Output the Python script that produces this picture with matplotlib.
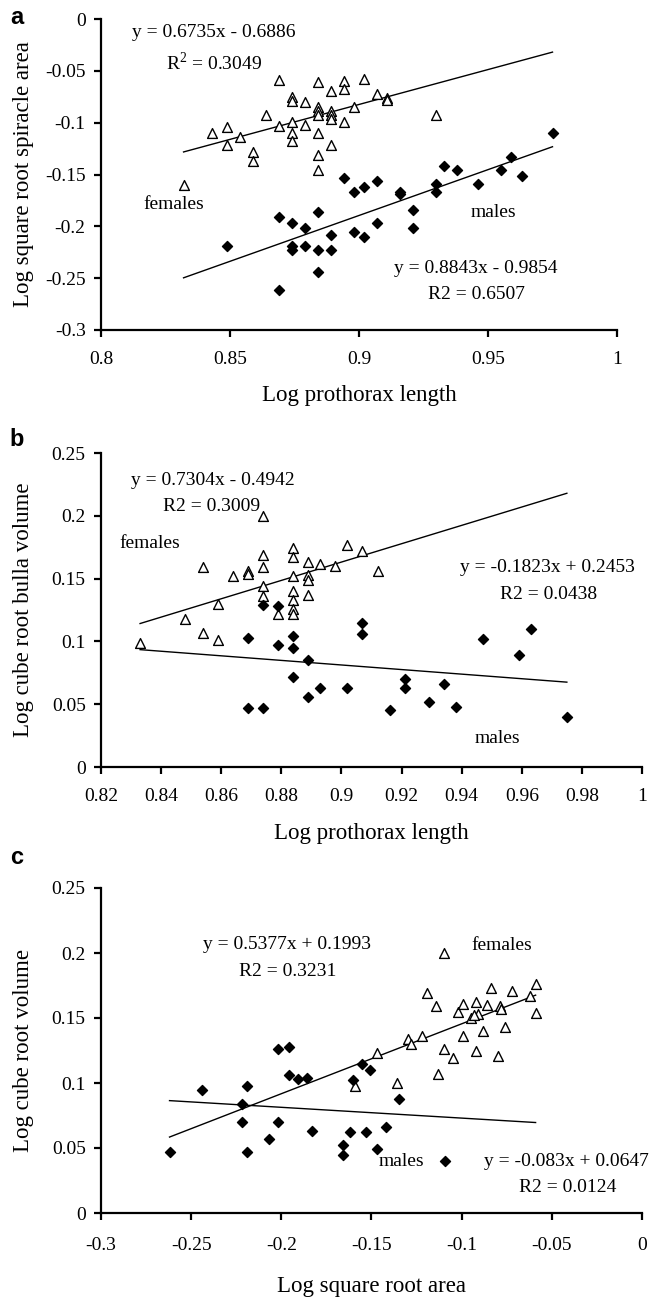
import matplotlib
matplotlib.use("Agg")
import matplotlib.pyplot as plt
import numpy as np
from matplotlib.ticker import FuncFormatter, MultipleLocator

plt.rcParams['font.family'] = ['Liberation Serif', 'DejaVu Serif']
plt.rcParams['mathtext.fontset'] = 'custom'
plt.rcParams['mathtext.rm'] = 'Liberation Serif'

# ---------------- panel a: spiracle area vs prothorax length ----------------
a_fem_x = [0.832, 0.843, 0.849, 0.849, 0.854, 0.859, 0.859, 0.864, 0.869, 0.869,
           0.874, 0.874, 0.874, 0.874, 0.874, 0.879, 0.879, 0.884, 0.884, 0.884,
           0.884, 0.884, 0.884, 0.884, 0.889, 0.889, 0.889, 0.889, 0.889, 0.894,
           0.894, 0.894, 0.898, 0.902, 0.907, 0.911, 0.911, 0.930]
a_fem_y = [-0.160, -0.110, -0.104, -0.122, -0.114, -0.128, -0.137, -0.093, -0.059, -0.103,
           -0.075, -0.079, -0.099, -0.110, -0.118, -0.080, -0.102, -0.061, -0.085, -0.089,
           -0.093, -0.110, -0.131, -0.146, -0.069, -0.089, -0.093, -0.096, -0.122, -0.060,
           -0.068, -0.099, -0.085, -0.058, -0.072, -0.076, -0.078, -0.093]
a_mal_x = [0.849, 0.869, 0.869, 0.874, 0.874, 0.874, 0.879, 0.879, 0.884, 0.884,
           0.884, 0.889, 0.889, 0.894, 0.898, 0.898, 0.902, 0.902, 0.907, 0.907,
           0.916, 0.916, 0.921, 0.921, 0.930, 0.930, 0.933, 0.938, 0.946, 0.955,
           0.959, 0.963, 0.975]
a_mal_y = [-0.219, -0.261, -0.191, -0.197, -0.219, -0.223, -0.202, -0.219, -0.186, -0.223,
           -0.244, -0.208, -0.223, -0.153, -0.167, -0.205, -0.162, -0.210, -0.156, -0.197,
           -0.167, -0.169, -0.184, -0.202, -0.159, -0.167, -0.142, -0.146, -0.159, -0.146,
           -0.133, -0.151, -0.110]
a_fit_fem = (0.6735, -0.6886)
a_fit_mal = (0.8843, -0.9854)

# ---------------- panel b: bulla volume vs prothorax length ----------------
b_fem_x = [0.833, 0.848, 0.854, 0.854, 0.859, 0.859, 0.864, 0.869, 0.869, 0.874,
           0.874, 0.874, 0.874, 0.874, 0.879, 0.884, 0.884, 0.884, 0.884, 0.884,
           0.884, 0.884, 0.889, 0.889, 0.889, 0.889, 0.893, 0.898, 0.902, 0.907,
           0.912]
b_fem_y = [0.099, 0.118, 0.159, 0.107, 0.130, 0.101, 0.152, 0.156, 0.154, 0.200,
           0.169, 0.159, 0.144, 0.136, 0.122, 0.174, 0.167, 0.152, 0.140, 0.133,
           0.126, 0.122, 0.163, 0.153, 0.149, 0.137, 0.162, 0.160, 0.177, 0.172,
           0.156]
b_mal_x = [0.869, 0.869, 0.874, 0.874, 0.879, 0.879, 0.884, 0.884, 0.884, 0.889,
           0.889, 0.893, 0.902, 0.907, 0.907, 0.916, 0.921, 0.921, 0.929, 0.934,
           0.938, 0.947, 0.959, 0.963, 0.975]
b_mal_y = [0.103, 0.047, 0.129, 0.047, 0.128, 0.097, 0.104, 0.095, 0.072, 0.085,
           0.056, 0.063, 0.063, 0.115, 0.106, 0.045, 0.070, 0.063, 0.052, 0.066,
           0.048, 0.102, 0.089, 0.110, 0.040]
b_fit_fem = (0.7304, -0.4942)
b_fit_mal = (-0.1823, 0.2453)

# ---------------- panel c: volume vs square root area ----------------
c_fem_x = [-0.159, -0.147, -0.136, -0.130, -0.128, -0.122, -0.119, -0.114, -0.113, -0.110,
           -0.110, -0.105, -0.102, -0.099, -0.099, -0.095, -0.092, -0.092, -0.091, -0.093,
           -0.088, -0.086, -0.084, -0.080, -0.079, -0.078, -0.076, -0.072, -0.062, -0.059,
           -0.059]
c_fem_y = [0.098, 0.123, 0.100, 0.134, 0.130, 0.136, 0.169, 0.159, 0.107, 0.200,
           0.126, 0.119, 0.155, 0.161, 0.136, 0.150, 0.162, 0.125, 0.153, 0.152,
           0.140, 0.160, 0.173, 0.121, 0.159, 0.157, 0.143, 0.171, 0.167, 0.176,
           0.154]
c_mal_x = [-0.262, -0.244, -0.222, -0.222, -0.219, -0.219, -0.207, -0.202, -0.202, -0.196,
           -0.196, -0.191, -0.186, -0.183, -0.166, -0.166, -0.162, -0.160, -0.155, -0.153,
           -0.151, -0.147, -0.142, -0.135, -0.109]
c_mal_y = [0.047, 0.095, 0.070, 0.084, 0.098, 0.047, 0.057, 0.126, 0.070, 0.128,
           0.106, 0.103, 0.104, 0.063, 0.052, 0.045, 0.062, 0.102, 0.115, 0.062,
           0.110, 0.049, 0.066, 0.088, 0.040]
c_fit_fem = (0.5377, 0.1993)
c_fit_mal = (-0.083, 0.0647)

W, H = 661, 1305
fig = plt.figure(figsize=(W / 100, H / 100), dpi=100)


def px_axes(left, top, right, bottom):
    return fig.add_axes([left / W, 1 - bottom / H, (right - left) / W, (bottom - top) / H])


# Excel-like tick labels: 0, -0.05, 0.1 ...
fmt = FuncFormatter(lambda v, p: "0" if abs(v) < 1e-9 else f"{round(v, 4):g}")


def style(ax, xlim, ylim, xstep, ystep, xlabel, ylabel, xlab_y, ylab_x, xpad):
    ax.set_xlim(*xlim)
    ax.set_ylim(*ylim)
    ax.xaxis.set_major_locator(MultipleLocator(xstep))
    ax.yaxis.set_major_locator(MultipleLocator(ystep))
    ax.xaxis.set_major_formatter(fmt)
    ax.yaxis.set_major_formatter(fmt)
    for s in ['top', 'right']:
        ax.spines[s].set_visible(False)
    for s in ['left', 'bottom']:
        ax.spines[s].set_linewidth(1.6)
    ax.tick_params(direction='out', length=5, width=1.6, labelsize=14)
    ax.tick_params(axis='y', pad=6)
    ax.tick_params(axis='x', pad=xpad)
    ax.set_xlabel(xlabel, fontsize=16.5)
    ax.set_ylabel(ylabel, fontsize=16.5)
    ax.xaxis.set_label_coords(0.5, xlab_y)
    ax.yaxis.set_label_coords(ylab_x, 0.5)


def draw(ax, fx, fy, mx, my, ffit, mfit):
    ax.scatter(fx, fy, marker='^', s=50, facecolors='white', edgecolors='black',
               linewidths=1.0, zorder=3, clip_on=False)
    ax.scatter(mx, my, marker='D', s=26, color='black', zorder=3, clip_on=False)
    lo = min(min(fx), min(mx))
    hi = max(max(fx), max(mx))
    xs = np.array([lo, hi])
    ax.plot(xs, ffit[0] * xs + ffit[1], color='black', lw=1.0, zorder=2)
    ax.plot(xs, mfit[0] * xs + mfit[1], color='black', lw=1.0, zorder=2)


def note(ax, x, y, s):
    ax.text(x, y, s, transform=ax.transAxes, ha='center', va='center', fontsize=14)


# panel a
ax = px_axes(101, 19, 617, 330)
draw(ax, a_fem_x, a_fem_y, a_mal_x, a_mal_y, a_fit_fem, a_fit_mal)
style(ax, (0.8, 1.0), (-0.3, 0.0), 0.05, 0.05, 'Log prothorax length',
      'Log square root spiracle area', -0.177, -0.130, 10)
note(ax, 0.219, 0.955, 'y = 0.6735x - 0.6886')
note(ax, 0.219, 0.858, 'R$^2$ = 0.3049')
note(ax, 0.141, 0.405, 'females')
note(ax, 0.760, 0.379, 'males')
note(ax, 0.727, 0.199, 'y = 0.8843x - 0.9854')
note(ax, 0.727, 0.113, 'R2 = 0.6507')

# panel b
ax = px_axes(101, 453, 642, 767)
draw(ax, b_fem_x, b_fem_y, b_mal_x, b_mal_y, b_fit_fem, b_fit_mal)
style(ax, (0.82, 1.0), (0.0, 0.25), 0.02, 0.05, 'Log prothorax length',
      'Log cube root bulla volume', -0.178, -0.124, 10)
note(ax, 0.207, 0.914, 'y = 0.7304x - 0.4942')
note(ax, 0.205, 0.831, 'R2 = 0.3009')
note(ax, 0.091, 0.713, 'females')
note(ax, 0.826, 0.634, 'y = -0.1823x + 0.2453')
note(ax, 0.828, 0.548, 'R2 = 0.0438')
note(ax, 0.732, 0.092, 'males')

# panel c
ax = px_axes(101, 888, 642, 1213)
draw(ax, c_fem_x, c_fem_y, c_mal_x, c_mal_y, c_fit_fem, c_fit_mal)
style(ax, (-0.3, 0.0), (0.0, 0.25), 0.05, 0.05, 'Log square root area',
      'Log cube root volume', -0.194, -0.124, 12.5)
note(ax, 0.344, 0.825, 'y = 0.5377x + 0.1993')
note(ax, 0.346, 0.742, 'R2 = 0.3231')
note(ax, 0.741, 0.822, 'females')
note(ax, 0.555, 0.157, 'males')
note(ax, 0.861, 0.157, 'y = -0.083x + 0.0647')
note(ax, 0.863, 0.077, 'R2 = 0.0124')

# panel letters
for letter, ypx in [('a', 18), ('b', 440), ('c', 858)]:
    fig.text(17 / W, 1 - ypx / H, letter, ha='center', va='center', fontsize=17,
             fontweight='bold', family=['Liberation Sans', 'DejaVu Sans'])

plt.savefig('out.png', dpi=100)
